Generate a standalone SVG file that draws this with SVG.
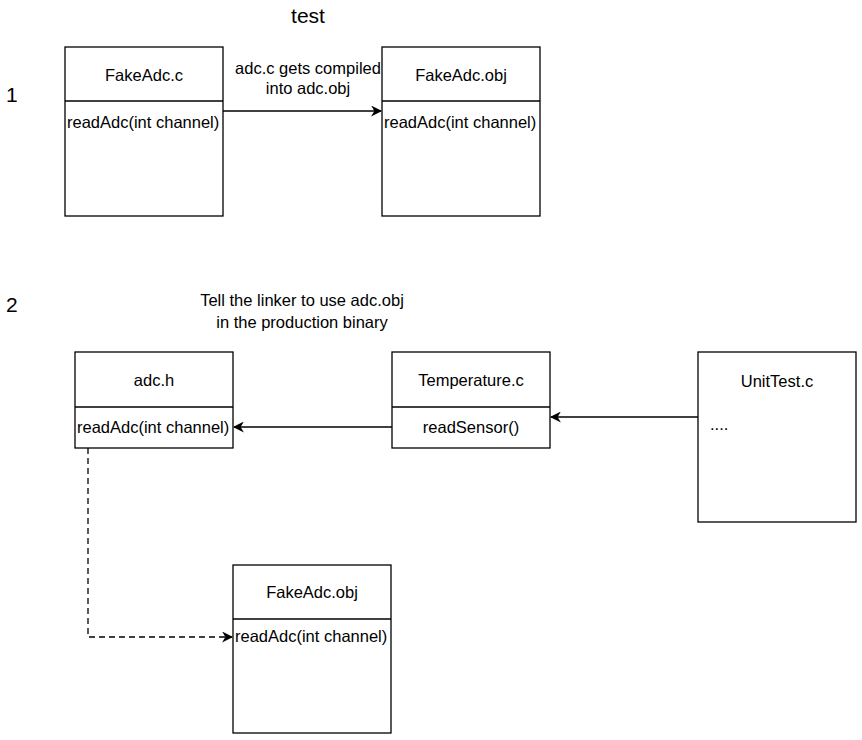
<svg xmlns="http://www.w3.org/2000/svg" width="862" height="740" viewBox="0 0 862 740">
<style>
text{font-family:"Liberation Sans",Arial,sans-serif;font-size:16.5px;fill:#000}
.b{fill:#fff;stroke:#000;stroke-width:1.3}
.l{stroke:#000;stroke-width:1.3;fill:none}
.m{text-anchor:middle}
.big{font-size:21px}
</style>
<defs>
<marker id="a" viewBox="0 0 10 10" refX="9" refY="5" markerWidth="11" markerHeight="11" markerUnits="userSpaceOnUse" orient="auto"><path d="M0,0 L10,5 L0,10 L3,5 Z" fill="#000"/></marker>
</defs>
<rect width="862" height="740" fill="#fff"/>
<text class="big m" x="308" y="23">test</text>
<text class="big" x="6" y="102">1</text>
<text class="big" x="6" y="312">2</text>
<g id="conn">
<path class="l" d="M223,111 H381" marker-end="url(#a)"/>
<path class="l" d="M392,427 H234" marker-end="url(#a)"/>
<path class="l" d="M698,417 H551" marker-end="url(#a)"/>
<path class="l" d="M88,448 V637 H232" stroke-dasharray="6 4" marker-end="url(#a)"/>
<text class="m" x="308" y="74">adc.c gets compiled</text>
<text class="m" x="308" y="94">into adc.obj</text>
<text class="m" x="302" y="306">Tell the linker to use adc.obj</text>
<text class="m" x="302" y="328">in the production binary</text>
</g>
<g id="fakeadc_c"><rect class="b" x="65" y="47" width="158" height="169"/><path class="l" d="M65,101 H223"/><text class="m" x="144" y="81">FakeAdc.c</text><text x="67" y="128">readAdc(int channel)</text></g>
<g id="fakeadc_obj1"><rect class="b" x="382" y="47" width="158" height="169"/><path class="l" d="M382,101 H540"/><text class="m" x="461" y="81">FakeAdc.obj</text><text x="384" y="128">readAdc(int channel)</text></g>
<g id="adc_h"><rect class="b" x="75" y="352" width="158" height="96"/><path class="l" d="M75,407 H233"/><text class="m" x="154" y="386">adc.h</text><text x="77" y="433">readAdc(int channel)</text></g>
<g id="temperature_c"><rect class="b" x="392" y="352" width="158" height="96"/><path class="l" d="M392,407 H550"/><text class="m" x="471" y="386">Temperature.c</text><text class="m" x="471" y="433">readSensor()</text></g>
<g id="unittest_c"><rect class="b" x="698" y="352" width="158" height="170"/><text class="m" x="777" y="387">UnitTest.c</text><text x="710" y="430">....</text></g>
<g id="fakeadc_obj2"><rect class="b" x="233" y="565" width="158" height="168"/><path class="l" d="M233,619 H391"/><text class="m" x="312" y="598">FakeAdc.obj</text><text x="235" y="642">readAdc(int channel)</text></g>
</svg>
